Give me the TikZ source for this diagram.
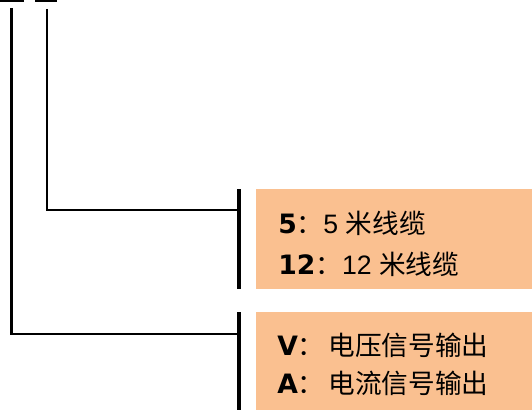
\documentclass[tikz,border=0pt]{standalone}
\usepackage{fontspec}
\setmainfont{Liberation Sans}
\newfontfamily\cjk{Noto Sans CJK SC}
\newfontfamily\keyfont{DejaVu Sans Bold}
\usepackage{xcolor}
\usepackage{tikz}
\usetikzlibrary{calc}
\definecolor{ink}{HTML}{000000}
\definecolor{peach}{HTML}{FAC090}
\newcommand{\optkey}[1]{{\keyfont #1}{\cjk ：}}
\tikzset{
  wire/.style={draw=ink, line width=2.2pt, line cap=butt, line join=miter},
  bar/.style={draw=ink, line width=2.7pt},
  stub/.style={fill=ink},
  box/.style={fill=peach, inner sep=0pt, anchor=north west, minimum width=207pt},
  lab/.style={anchor=base west, inner sep=0pt, font=\fontsize{20}{24}\selectfont},
}

\begin{document}
\begin{tikzpicture}[x=0.75pt,y=-0.75pt]
  \useasboundingbox (0,0) rectangle (532,410);

  % cut-off code marks at the top
  \fill[stub] (0,0) rectangle (24,1.7);
  \fill[stub] (35,0) rectangle (57,1.7);

  \coordinate (sigTop) at (11.5,8);
  \coordinate (lenTop) at (47,9);

  % option boxes
  \node[box, minimum height=75pt] (lenBox) at (256,189) {};
  \node[box, minimum height=73.5pt] (sigBox) at (256,312) {};

  \coordinate (lenBarA) at (239,189);
  \coordinate (lenBarB) at (239,289);
  \coordinate (sigBarA) at (239,312);
  \coordinate (sigBarB) at (239,410);
  \coordinate (lenJoin) at (239,210);
  \coordinate (sigJoin) at (239,334);

  \draw[bar] (lenBarA) -- (lenBarB);
  \draw[bar] (sigBarA) -- (sigBarB);

  \draw[wire] (lenTop) |- (lenJoin);
  \draw[wire] (sigTop) |- (sigJoin);

  \node[lab] (len5) at (278,233) {\optkey{5}5 {\cjk 米线缆}};
  \node[lab] (len12) at (278,274) {\optkey{12}12 {\cjk 米线缆}};
  \node[lab] (sigV) at (277,355) {\optkey{V}\hspace{3pt}{\cjk 电压信号输出}};
  \node[lab] (sigA) at (277,393) {\optkey{A}\hspace{3pt}{\cjk 电流信号输出}};
\end{tikzpicture}
\end{document}
